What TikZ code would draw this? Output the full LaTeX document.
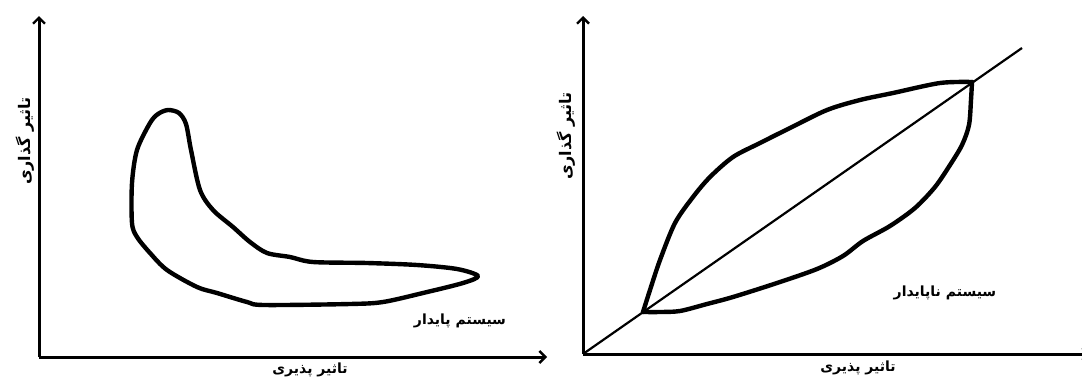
\documentclass[tikz,border=0pt]{standalone}
\usepackage{fontspec}
\newfontfamily\arabicfont[Script=Arabic]{DejaVu Sans}
\TeXXeTstate=1
\usetikzlibrary{arrows.meta}

\begin{document}
\begin{tikzpicture}[
  x=1pt, y=-1pt,
  every node/.style={font=\arabicfont\bfseries\fontsize{14}{16}\selectfont, inner sep=0pt},
  axis/.style={line width=3pt, -{Straight Barb[length=6pt,width=12pt,line width=2.4pt]}},
  loop/.style={line width=4.4pt, line join=round, line cap=round},
  ylbl/.style={rotate=90, font=\arabicfont\bfseries\fontsize{16}{18}\selectfont}
]
\useasboundingbox (0,0) rectangle (1082,378);
% left: stable system
\coordinate (o1) at (39,357);
\coordinate (y1) at (39,16);
\coordinate (x1) at (547,357);
\draw[axis] (o1) -- (y1);
\draw[axis] (o1) -- (x1);
\draw[loop] plot[smooth cycle, tension=0.5] coordinates {
  (168,110) (179,113) (186,124) (191,150) (200,190) (213,210) (233,227)
  (250,242) (267,253) (290,257) (313,262) (367,263) (417,265) (457,269)
  (478,276) (463,283) (423,293) (383,302) (350,304) (264,305) (247,302)
  (217,293) (197,287) (167,270) (150,253) (137,237) (132,223) (132,183)
  (137,150) (150,123) (158,114)};
\node (stable) at (460,321) {\beginR سیستم پایدار\endR};
\node (xlbl1) at (310,370) {\beginR تاثیر پذیری\endR};
\node[ylbl] (ylbl1) at (25,141) {\beginR تاثیر گذاری\endR};
% right: unstable system
\coordinate (o2) at (583,354);
\coordinate (y2) at (583,16);
\coordinate (x2) at (1090,354);
\coordinate (d2) at (1022,48);
\coordinate (p) at (643,312);
\coordinate (q) at (972,82);
\draw[axis] (o2) -- (y2);
\draw[axis] (o2) -- (x2);
\draw[line width=2.2pt] (o2) -- (d2);
\draw[loop] plot[smooth, tension=0.5] coordinates {
  (643,312) (650,290) (660,260) (675,223) (693,197) (710,177) (733,157)
  (760,143) (790,128) (827,110) (860,100) (893,93) (940,83) (972,82)};
\draw[loop] plot[smooth, tension=0.5] coordinates {
  (972,82) (971,100) (969,125) (962,145) (950,165) (935,187) (915,208)
  (890,226) (863,241) (843,256) (817,269) (777,283) (733,297) (707,304)
  (680,311) (660,312) (643,312)};
\node (unstable) at (945,293) {\beginR سیستم ناپایدار\endR};
\node (xlbl2) at (858,368) {\beginR تاثیر پذیری\endR};
\node[ylbl] (ylbl2) at (566,136) {\beginR تاثیر گذاری\endR};
\end{tikzpicture}
\end{document}
